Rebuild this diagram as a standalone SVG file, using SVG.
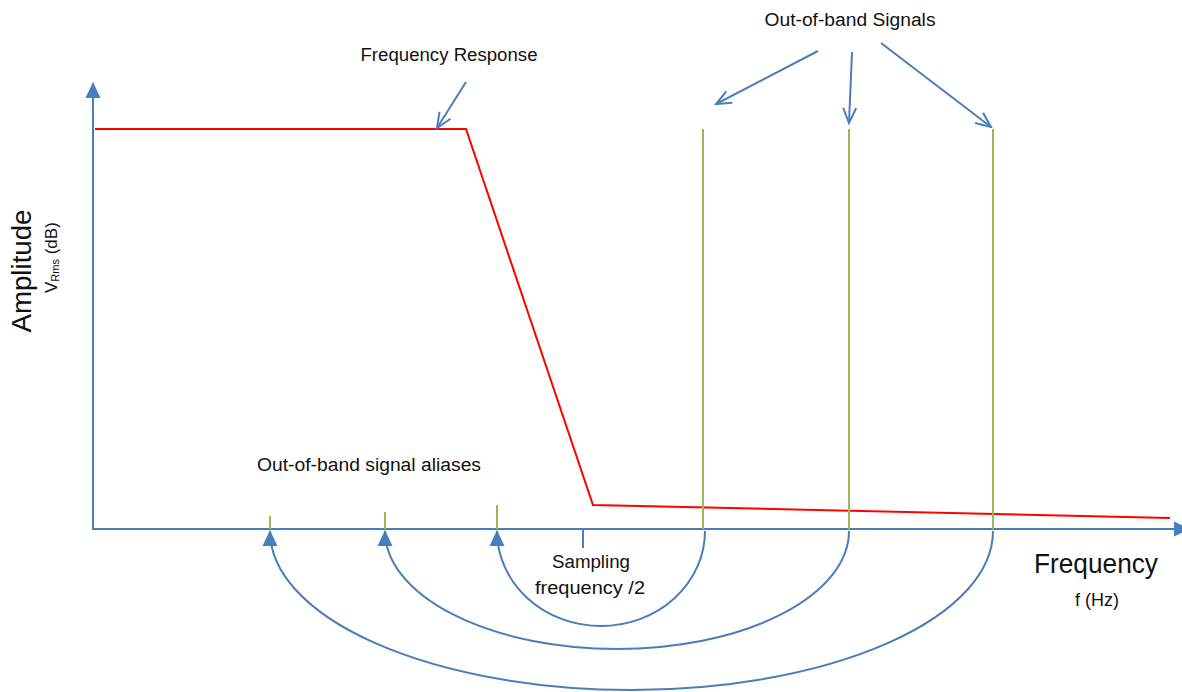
<svg xmlns="http://www.w3.org/2000/svg" width="1182" height="692" viewBox="0 0 1182 692">
<style>
  .ax{stroke:#4a7ebb;stroke-width:2;fill:none}
  .blue{stroke:#4a7ebb;stroke-width:2;fill:none}
  .red{stroke:#ff0000;stroke-width:2;fill:none}
  .grn{stroke:#9bbb59;stroke-width:2;fill:none}
  text{font-family:"Liberation Sans",Arial,sans-serif;fill:#111}
</style>
<defs>
  <marker id="tri" markerUnits="userSpaceOnUse" markerWidth="16" markerHeight="16" viewBox="0 0 16 16" refX="15" refY="8" orient="auto">
    <path d="M0,0.5 L16,8 L0,15.5 z" fill="#4a7ebb"/>
  </marker>
  <marker id="open" markerUnits="userSpaceOnUse" markerWidth="18" markerHeight="16" viewBox="0 0 18 16" refX="16" refY="8" orient="auto">
    <path d="M1,1.5 L16,8 L1,14.5" fill="none" stroke="#4a7ebb" stroke-width="2"/>
  </marker>
</defs>

<g id="axes">
  <line class="ax" x1="93" y1="530" x2="93" y2="83" marker-end="url(#tri)"/>
  <line class="ax" x1="92" y1="529" x2="1189" y2="529" marker-end="url(#tri)"/>
  <line class="ax" x1="583" y1="529" x2="583" y2="548"/>
</g>

<g id="response">
  <polyline class="red" points="95,129 466,129 593,505 1170,518"/>
</g>

<g id="signals">
  <line class="grn" x1="703" y1="129" x2="703" y2="529"/>
  <line class="grn" x1="849" y1="129" x2="849" y2="529"/>
  <line class="grn" x1="993" y1="129" x2="993" y2="529"/>
  <line class="grn" x1="270" y1="516" x2="270" y2="529"/>
  <line class="grn" x1="385" y1="512" x2="385" y2="529"/>
  <line class="grn" x1="497" y1="505" x2="497" y2="529"/>
</g>

<g id="connectors">
  <path class="blue" d="M705,531 A104,95 0 0 1 497,531" marker-end="url(#tri)"/>
  <path class="blue" d="M849,531 A232,118 0 0 1 385,531" marker-end="url(#tri)"/>
  <path class="blue" d="M993,531 A361.5,159 0 0 1 270,531" marker-end="url(#tri)"/>
  <line class="blue" x1="466" y1="82" x2="437" y2="128" marker-end="url(#open)"/>
  <line class="blue" x1="818" y1="51" x2="716" y2="104" marker-end="url(#open)"/>
  <line class="blue" x1="852" y1="52" x2="849" y2="123" marker-end="url(#open)"/>
  <line class="blue" x1="881" y1="43" x2="991" y2="127" marker-end="url(#open)"/>
</g>

<g id="labels">
  <text x="449" y="61" font-size="18" text-anchor="middle" textLength="177" lengthAdjust="spacingAndGlyphs">Frequency Response</text>
  <text x="850" y="26" font-size="18" text-anchor="middle" textLength="171" lengthAdjust="spacingAndGlyphs">Out-of-band Signals</text>
  <text x="369" y="471" font-size="18" text-anchor="middle" textLength="224" lengthAdjust="spacingAndGlyphs">Out-of-band signal aliases</text>
  <text x="591" y="568" font-size="18" text-anchor="middle" textLength="78" lengthAdjust="spacingAndGlyphs">Sampling</text>
  <text x="590" y="594" font-size="18" text-anchor="middle" textLength="110" lengthAdjust="spacingAndGlyphs">frequency /2</text>
  <text x="1096" y="573" font-size="27" text-anchor="middle" textLength="124" lengthAdjust="spacingAndGlyphs">Frequency</text>
  <text x="1097" y="606" font-size="18" text-anchor="middle" textLength="44" lengthAdjust="spacingAndGlyphs">f (Hz)</text>
  <text transform="translate(31,271) rotate(-90)" font-size="27" text-anchor="middle" textLength="123" lengthAdjust="spacingAndGlyphs">Amplitude</text>
  <text transform="translate(57,293) rotate(-90)" font-size="17">V<tspan font-size="11" dy="2">Rms</tspan><tspan dy="-2"> (dB)</tspan></text>
</g>
</svg>
